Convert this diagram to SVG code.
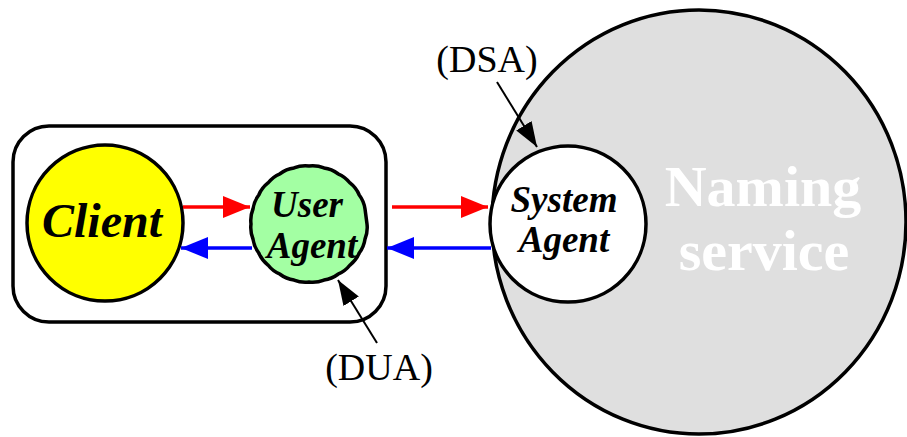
<svg xmlns="http://www.w3.org/2000/svg" width="907" height="437" viewBox="0 0 907 437">
<style>
.ol{stroke:#000;stroke-width:3.5}
.lbl{font-family:"Liberation Serif","Times New Roman",serif;font-size:38px;fill:#000}
.node{font-family:"Liberation Serif","Times New Roman",serif;font-weight:bold;font-style:italic;fill:#000;text-anchor:middle}
.ns{font-family:"Liberation Serif","Times New Roman",serif;font-weight:bold;font-size:58px;fill:#fff;text-anchor:middle}
.red{stroke:#f00;stroke-width:3.5;fill:none}
.blue{stroke:#00f;stroke-width:3.5;fill:none}
.ptr{stroke:#000;stroke-width:2;fill:none}
</style>
<defs>
<marker id="ahRed" markerUnits="userSpaceOnUse" markerWidth="28" markerHeight="24" refX="27" refY="11" orient="auto"><path d="M0,0 L27,11 L0,22 z" fill="#f00"/></marker>
<marker id="ahBlue" markerUnits="userSpaceOnUse" markerWidth="28" markerHeight="24" refX="27" refY="11" orient="auto"><path d="M0,0 L27,11 L0,22 z" fill="#00f"/></marker>
<marker id="ahBlack" markerUnits="userSpaceOnUse" markerWidth="26" markerHeight="20" refX="25" refY="9" orient="auto"><path d="M0,0 L25,9 L0,18 z" fill="#000"/></marker>
</defs>

<g id="naming-service">
<ellipse cx="699" cy="222" rx="207" ry="212" fill="#dfdfdf" class="ol"/>
<text class="ns" x="763" y="206">Naming</text>
<text class="ns" x="764" y="270">service</text>
</g>

<g id="client-host">
<rect x="13" y="126" width="373" height="196" rx="36" ry="36" fill="#fff" class="ol"/>
</g>

<g id="client">
<circle cx="105" cy="223" r="78" fill="#ff0" class="ol"/>
<text class="node" x="102" y="237" font-size="48">Client</text>
</g>

<g id="user-agent">
<path d="M367,224 A30,30 0 0 1 365.02,239.01 A30,30 0 0 1 359.23,253 A30,30 0 0 1 350.01,265.01 A30,30 0 0 1 338,274.23 A30,30 0 0 1 324.01,280.02 A30,30 0 0 1 309,282 A30,30 0 0 1 293.99,280.02 A30,30 0 0 1 280,274.23 A30,30 0 0 1 267.99,265.01 A30,30 0 0 1 258.77,253 A30,30 0 0 1 252.98,239.01 A30,30 0 0 1 251,224 A30,30 0 0 1 252.98,208.99 A30,30 0 0 1 258.77,195 A30,30 0 0 1 267.99,182.99 A30,30 0 0 1 280,173.77 A30,30 0 0 1 293.99,167.98 A30,30 0 0 1 309,166 A30,30 0 0 1 324.01,167.98 A30,30 0 0 1 338,173.77 A30,30 0 0 1 350.01,182.99 A30,30 0 0 1 359.23,195 A30,30 0 0 1 365.02,208.99 Z" fill="#a3ffa3" class="ol"/>
<text class="node" x="307" y="217" font-size="37">User</text>
<text class="node" x="312" y="258" font-size="37">Agent</text>
</g>

<g id="system-agent">
<circle cx="568" cy="224" r="78" fill="#fff" class="ol"/>
<text class="node" x="564" y="212" font-size="37">System</text>
<text class="node" x="564" y="252" font-size="37">Agent</text>
</g>

<g id="labels">
<text class="lbl" x="487" y="72" text-anchor="middle">(DSA)</text>
<text class="lbl" x="379" y="380" text-anchor="middle">(DUA)</text>
</g>

<g id="connectors">
<line class="red" x1="183" y1="207" x2="250" y2="207" marker-end="url(#ahRed)"/>
<line class="blue" x1="252" y1="248" x2="181" y2="248" marker-end="url(#ahBlue)"/>
<line class="red" x1="392" y1="207" x2="488" y2="207" marker-end="url(#ahRed)"/>
<line class="blue" x1="491" y1="248" x2="387" y2="248" marker-end="url(#ahBlue)"/>
<line class="ptr" x1="497" y1="82" x2="537" y2="147" marker-end="url(#ahBlack)"/>
<line class="ptr" x1="377" y1="343" x2="338" y2="280" marker-end="url(#ahBlack)"/>
</g>
</svg>
